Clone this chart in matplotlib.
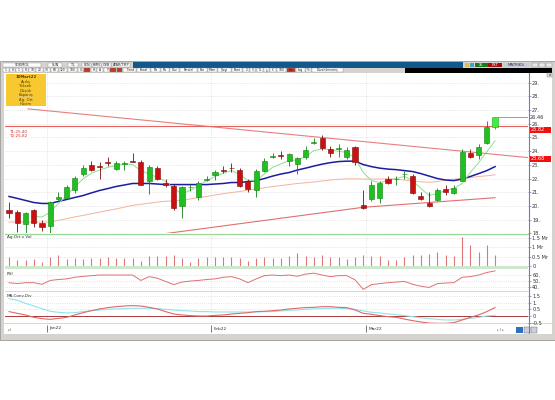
import matplotlib
matplotlib.use("Agg")
import matplotlib.pyplot as plt
from matplotlib.patches import Rectangle
import numpy as np

W, H = 555, 400

# ---------------- data ----------------
opens = [19.67, 19.55, 18.65, 19.72, 18.75, 18.55, 20.52, 20.60, 21.13, 22.34,
         23.00, 22.90, 23.20, 22.73, 23.08, 23.26, 23.20, 21.80, 22.78, 21.70,
         21.47, 19.98, 21.35, 20.64, 21.93, 22.27, 22.60, 22.80, 22.63, 21.80,
         21.13, 22.58, 23.58, 23.72, 23.31, 23.07, 23.55, 24.62, 24.93, 24.18,
         24.18, 23.55, 24.28, 20.04, 20.47, 20.60, 21.98, 21.96, 22.32, 22.17,
         20.69, 20.20, 20.40, 21.27, 20.96, 21.85, 23.84, 23.75, 24.60, 25.73]
highs = [20.30, 19.70, 19.55, 19.80, 19.00, 20.35, 21.00, 21.50, 22.20, 23.00,
         23.30, 23.20, 23.60, 23.30, 23.30, 23.90, 23.35, 23.00, 22.95, 21.95,
         21.60, 21.45, 21.60, 21.85, 22.20, 22.60, 22.95, 23.10, 22.80, 21.95,
         22.70, 23.50, 23.85, 24.00, 23.90, 23.60, 24.35, 24.95, 25.15, 24.40,
         24.50, 24.30, 24.40, 21.13, 21.85, 21.85, 22.15, 22.20, 22.55, 22.30,
         21.00, 21.00, 21.30, 21.50, 21.50, 24.15, 24.15, 24.55, 26.17, 26.50]
lows = [19.15, 18.10, 18.00, 18.45, 18.20, 18.00, 20.45, 20.50, 20.95, 22.20,
        22.55, 22.00, 22.95, 22.60, 22.60, 23.20, 21.50, 20.90, 21.90, 21.40,
        19.70, 19.10, 21.10, 20.45, 21.80, 21.90, 22.40, 22.50, 21.35, 21.00,
        20.64, 22.45, 23.50, 23.45, 22.95, 22.34, 23.45, 24.50, 24.10, 23.55,
        23.55, 23.40, 23.00, 19.80, 20.35, 20.20, 21.60, 21.50, 22.00, 20.90,
        20.40, 19.95, 20.35, 20.80, 20.90, 21.80, 23.50, 23.40, 24.50, 25.60]
closes = [19.50, 18.75, 19.50, 18.75, 18.45, 20.25, 20.62, 21.40, 22.07, 22.78,
          22.63, 22.85, 23.15, 23.11, 23.13, 23.22, 21.56, 22.85, 22.00, 21.54,
          19.82, 21.35, 21.40, 21.71, 21.97, 22.49, 22.56, 22.76, 21.49, 21.25,
          22.53, 23.31, 23.62, 23.68, 23.80, 23.48, 24.10, 24.66, 24.20, 23.89,
          24.22, 24.10, 23.19, 19.87, 21.54, 21.66, 21.69, 22.00, 22.36, 20.96,
          20.47, 20.01, 21.13, 21.03, 21.32, 23.96, 23.60, 24.28, 25.80, 26.46]

ma_blue = [20.69, 20.55, 20.40, 20.25, 20.18, 20.18, 20.33, 20.47, 20.62, 20.76,
           20.95, 21.13, 21.27, 21.42, 21.53, 21.64, 21.64, 21.64, 21.60, 21.56,
           21.56, 21.56, 21.56, 21.56, 21.56, 21.60, 21.64, 21.71, 21.71, 21.78,
           21.85, 22.00, 22.18, 22.33, 22.44, 22.62, 22.76, 22.91, 23.05, 23.16,
           23.24, 23.27, 23.27, 23.02, 22.87, 22.76, 22.69, 22.65, 22.58, 22.51,
           22.36, 22.18, 22.00, 21.89, 21.85, 21.96, 22.15, 22.36, 22.58, 22.87]
ma_green = [np.nan, np.nan, np.nan, 19.24, 19.19, 19.55, 20.18, 20.76, 21.42, 21.98,
            22.39, 22.63, 22.82, 22.95, 23.07, 23.02, 22.58, 22.34, 22.09, 21.80,
            21.25, 20.89, 21.13, 21.49, 21.85, 22.15, 22.39, 22.58, 22.29, 21.85,
            21.85, 22.34, 22.82, 23.07, 23.31, 23.36, 23.60, 24.04, 24.16, 24.11,
            23.99, 23.91, 23.50, 22.44, 21.85, 21.71, 21.85, 22.00, 22.15, 21.85,
            21.27, 20.76, 20.91, 21.13, 21.27, 21.64, 22.44, 23.16, 23.96, 24.76]
ma_orange = [18.82, 18.82, 18.82, 18.82, 18.82, 18.82, 18.95, 19.07, 19.20, 19.31,
             19.43, 19.55, 19.67, 19.78, 19.91, 20.04, 20.12, 20.20, 20.28, 20.34,
             20.37, 20.40, 20.51, 20.62, 20.69, 20.80, 20.89, 20.98, 21.05, 21.15,
             21.24, 21.32, 21.42, 21.49, 21.56, 21.64, 21.69, 21.75, 21.82, 21.89,
             21.94, 21.98, 21.98, 21.96, 21.96, 21.97, 21.98, 21.96, 21.89, 21.82,
             21.76, 21.73, 21.78, 21.89, 21.96, 22.01, 22.07, 22.15, 22.20, 22.27]

volume = [0.46, 0.32, 0.32, 0.36, 0.23, 0.46, 0.59, 0.37, 0.41, 0.37,
          0.41, 0.41, 0.46, 0.41, 0.41, 0.41, 0.29, 0.54, 0.54, 0.54,
          0.59, 0.41, 0.23, 0.41, 0.46, 0.50, 0.46, 0.46, 0.41, 0.29,
          0.41, 0.46, 0.41, 0.41, 0.54, 0.68, 0.54, 0.46, 0.59, 0.46,
          0.46, 0.36, 0.46, 0.59, 0.54, 0.54, 0.32, 0.32, 0.50, 0.59,
          0.59, 0.64, 0.77, 0.59, 0.54, 1.57, 1.12, 0.77, 1.12, 0.59]

rsi = [47.7, 46.2, 47.7, 47.7, 45.1, 51.3, 52.8, 53.8, 56.4, 57.9,
       59.0, 60.0, 60.0, 60.0, 60.0, 60.0, 51.3, 57.4, 54.9, 49.7,
       44.6, 48.7, 50.3, 51.3, 52.8, 53.8, 56.4, 57.4, 53.8, 47.7,
       53.8, 59.0, 60.0, 59.0, 60.0, 58.0, 61.5, 63.0, 60.0, 57.4,
       59.0, 59.0, 52.3, 36.9, 44.6, 46.2, 47.7, 48.7, 49.7, 45.1,
       42.0, 40.0, 46.2, 47.2, 47.7, 56.4, 57.4, 60.0, 64.1, 66.7]

macd = [0.33, 0.20, 0.08, -0.10, -0.20, -0.25, -0.18, -0.10, 0.08, 0.25,
        0.40, 0.53, 0.63, 0.70, 0.75, 0.78, 0.75, 0.65, 0.53, 0.33,
        0.15, 0.08, 0.03, 0.00, 0.00, 0.05, 0.08, 0.15, 0.20, 0.25,
        0.33, 0.35, 0.40, 0.45, 0.53, 0.58, 0.63, 0.65, 0.70, 0.70,
        0.65, 0.63, 0.45, 0.20, 0.13, 0.03, -0.05, -0.10, -0.23, -0.35,
        -0.45, -0.53, -0.55, -0.55, -0.50, -0.30, -0.10, 0.08, 0.33, 0.63]
signal = [1.30, 1.18, 0.95, 0.75, 0.55, 0.35, 0.28, 0.23, 0.25, 0.33,
          0.40, 0.45, 0.50, 0.53, 0.55, 0.58, 0.58, 0.58, 0.55, 0.50,
          0.45, 0.40, 0.38, 0.33, 0.33, 0.30, 0.30, 0.30, 0.30, 0.30,
          0.30, 0.33, 0.33, 0.38, 0.43, 0.45, 0.50, 0.53, 0.55, 0.58,
          0.58, 0.55, 0.50, 0.38, 0.28, 0.23, 0.15, 0.10, 0.03, -0.05,
          -0.13, -0.20, -0.25, -0.30, -0.30, -0.25, -0.18, -0.10, 0.00, 0.05]

# trend lines (anchor points: bar index, price)
down_trend_x = [2.3, 63.0]
down_trend_y = [27.09, 23.53]
up_trend_x = [18.0, 43.0, 59.0]
up_trend_y = [17.90, 19.90, 20.60]
level_price = 25.82
last_price = 26.46
level_labels = ["25.82", "23.68"]
target_texts = ["T1:25.40", "T2:25.82"]

price_ticks = list(range(18, 30))
vol_ticks = [0, 0.5, 1.0, 1.5]
vol_labels = ["0", "0.5 Mr", "1 Mr", "1.5 Mr"]
rsi_ticks = [40, 50, 60]
macd_ticks = [-0.5, 0, 0.5, 1.0, 1.5]
month_labels = ["Jan22", "Feb22", "Mar22"]
month_pos = [4.6, 24.5, 43.3]
legend_rows = ["Açılış", "Yüksek", "Düşük", "Kapanış", "Ağ. Ort", "Hacim"]

# ---------------- figure ----------------
fig = plt.figure(figsize=(W / 100, H / 100), dpi=100)
fig.patch.set_facecolor("white")

bg = fig.add_axes([0, 0, 1, 1])
bg.set_xlim(0, W)
bg.set_ylim(H, 0)
bg.axis("off")

def rect(x, y, w, h, fc, ec="none", lw=0.5, z=1):
    bg.add_patch(Rectangle((x, y), w, h, facecolor=fc, edgecolor=ec, lw=lw, zorder=z))

# window frame
rect(0, 61, 555, 279, "#d6d3ce", ec="#9a9a9a", lw=0.6)
rect(4, 72.5, 548, 261, "white", z=1.1)
# title row
rect(1, 62, 132, 5.5, "#d6d3ce", z=1.2)
rect(133, 62, 330, 5.5, "#10598a", z=1.2)
rect(475, 62.5, 13, 4.5, "#1c7a1c", z=1.3)
rect(488, 62.5, 14, 4.5, "#a81010", z=1.3)
rect(503, 62.5, 26, 4.5, "#c9cad6", z=1.3)
bg.text(481.5, 64.8, "XL", fontsize=2.6, color="white", ha="center", va="center", zorder=2)
bg.text(495, 64.8, "EXT", fontsize=2.6, color="white", ha="center", va="center", zorder=2)
bg.text(516, 64.8, "MATRIKS", fontsize=2.8, color="#303050", ha="center", va="center", zorder=2)
for bx in [532, 539, 546]:
    rect(bx, 62.8, 5.5, 4, "#e8e8e8", ec="#808080", lw=0.3, z=1.3)
rect(465, 62.8, 4, 4, "#e0c040", z=1.3)
rect(470, 62.8, 4, 4, "#40a0d0", z=1.3)
top_boxes = [(3, 38, "SOKMOL"), (48, 14, "SUN"), (68, 10, "TL"), (82, 9, "LEN"), (92, 9, "KMN"),
             (102, 9, "GVB"), (112, 18, "ATAR/TMP")]
for bx, bw, t in top_boxes:
    rect(bx, 62.8, bw, 4.2, "white", ec="#909090", lw=0.3, z=1.3)
    bg.text(bx + bw / 2, 65, t, fontsize=2.4, color="#202020", ha="center", va="center", zorder=2)
# toolbar row
rect(1, 67.5, 404, 5, "#d6d3ce", z=1.2)
rect(405, 67.5, 147, 5, "black", z=1.2)
tool_items = ["1", "8", "1", "8", "10", "20", "30", "60", "120", "180", "G", "", "H", "A", "Y", "", "",
              "Trend", "Kanal", "Fib", "Fib", "Düz", "Paralel", "Bar", "Mum", "Çizgi", "Bant", "2", "5",
              "TL", "$", "€", "100", "Lin", "Log", "%", "Düzeltilmemiş"]
tx = 3
for t in tool_items:
    bw = max(5.5, 2.2 * len(t) + 2)
    rect(tx, 68.0, bw, 4, "white" if t not in ("", "Lin") else "#c0392b", ec="#808080", lw=0.25, z=1.3)
    bg.text(tx + bw / 2, 70.1, t, fontsize=2.2, color="#202020", ha="center", va="center", zorder=2)
    tx += bw + 1
    if tx > 400:
        break
rect(547, 73, 5, 4, "#e0e0e0", ec="#808080", lw=0.3, z=1.3)
bg.text(549.5, 75, "x", fontsize=2.5, ha="center", va="center", zorder=2)

# yellow info box
rect(6, 73.5, 40, 32.5, "#f8c830", z=1.3)
bg.text(26, 77.5, "10Mart22", fontsize=2.8, weight="bold", color="#5a3a00", ha="center", va="center", zorder=2)
for k, t in enumerate(legend_rows):
    bg.text(26, 82 + k * 4.4, t, fontsize=2.7, color="#5a3a00", ha="center", va="center", zorder=2)

# bottom bar
rect(1, 333.5, 553, 5.5, "#d6d3ce", z=1.2)
bg.plot([4, 552], [323, 323], color="#c8c8c8", lw=0.5, zorder=2)
bg.text(8, 331, "ء.ا", fontsize=2.6, color="#404040", zorder=2)
bg.text(497, 331, "ء ا ء", fontsize=2.6, color="#404040", zorder=2)
rect(516, 327, 7, 6, "#3070c0", z=1.3)
rect(524, 327, 6, 6, "#c8d0e0", ec="#606060", lw=0.3, z=1.3)
rect(531, 327, 6, 6, "#c8d0e0", ec="#606060", lw=0.3, z=1.3)

# right axis line & separators
bg.plot([528.5, 528.5], [73, 333], color="#8a70b0", lw=0.8, zorder=3)
bg.plot([5, 528], [233.7, 233.7], color="#9ad89a", lw=0.9, zorder=3)
rect(5, 266, 523, 2.8, "#cde8cd", z=2.5)
bg.plot([5, 528], [291, 291], color="#c8c8c8", lw=0.5, zorder=3)

def pax(x0, y0, x1, y1):
    a = fig.add_axes([x0 / W, 1 - y1 / H, (x1 - x0) / W, (y1 - y0) / H])
    a.patch.set_alpha(0)
    for s in a.spines.values():
        s.set_visible(False)
    a.set_xlim(-0.49, 63.0)
    a.set_xticks([])
    a.yaxis.tick_right()
    a.tick_params(axis="y", direction="out", length=2, width=0.5, color="#8a70b0",
                  labelsize=3.6, pad=1, labelcolor="#303030")
    return a

grid_kw = dict(color="#c9c9c9", lw=0.45, linestyle=(0, (1, 2)), zorder=0)

# ---------------- price panel ----------------
ax = pax(5, 73, 528, 233.3)
ax.set_ylim(18.0, 29.71)
ax.set_yticks(price_ticks)
ax.set_yticklabels([f"{v}." for v in price_ticks])
for v in price_ticks:
    ax.axhline(v, **grid_kw)
for m in month_pos:
    ax.axvline(m, **grid_kw)

idx = np.arange(len(opens))
ax.plot(idx, ma_orange, color="#f2b49a", lw=0.7, zorder=2)
ax.plot(idx, ma_blue, color="#1c1ca0", lw=1.1, zorder=2)
ax.plot(idx, ma_green, color="#8de08d", lw=0.7, zorder=2)
ax.plot(down_trend_x, down_trend_y, color="#e58080", lw=0.8, zorder=2)
ax.plot(up_trend_x, up_trend_y, color="#e07070", lw=0.8, zorder=2)
ax.axhline(level_price, color="#e86060", lw=0.8, zorder=2)
ax.plot([len(opens) - 0.7, 63.0], [last_price, last_price], color="#8a88b0", lw=0.6, zorder=2)

for i, (o, h, l, c) in enumerate(zip(opens, highs, lows, closes)):
    up = c >= o
    fc = "#20c020" if up else "#cc1010"
    ec = "#148014" if up else "#7a0c0c"
    if i == len(opens) - 1:
        fc, ec = "#3cf03c", "#20a020"
    ax.vlines(i, l, h, color=ec, lw=0.6, zorder=3)
    ax.bar(i, max(abs(c - o), 0.03), bottom=min(o, c), width=0.62, color=fc,
           edgecolor=ec, lw=0.4, zorder=4)

ax.text(0.0, 25.42, target_texts[0], fontsize=3.0, color="#d03030", va="center", ha="left")
ax.text(0.0, 25.12, target_texts[1], fontsize=3.0, color="#d03030", va="center", ha="left")

# labels at right axis
ax.text(1.004, last_price, "26.46", transform=ax.get_yaxis_transform(), fontsize=3.6,
        color="#303030", va="center", ha="left")
for lbl, yc in zip(level_labels, [129.5, 158.8]):
    rect(530, yc - 3, 21, 6, "#f01010", z=4)
    bg.text(531, yc, lbl, fontsize=3.6, color="white", va="center", ha="left", zorder=5)

# ---------------- volume panel ----------------
av = pax(5, 234, 528, 266)
av.set_ylim(0, 1.71)
av.set_yticks(vol_ticks)
av.set_yticklabels(vol_labels)
for v in vol_ticks[1:]:
    av.axhline(v, **grid_kw)
for m in month_pos:
    av.axvline(m, **grid_kw)
av.vlines(idx, 0, volume, color="#e07878", lw=0.8)
av.text(0.004, 0.88, "Ag.Ort.x Vol", transform=av.transAxes, fontsize=3.0, color="#303030")

# ---------------- RSI panel ----------------
ar = pax(5, 269, 528, 291)
ar.set_ylim(34.3, 69.7)
ar.set_yticks(rsi_ticks)
ar.set_yticklabels([f"{v}." for v in rsi_ticks])
for v in rsi_ticks:
    ar.axhline(v, **grid_kw)
for m in month_pos:
    ar.axvline(m, **grid_kw)
ar.plot(idx, rsi, color="#e07070", lw=0.7)
ar.text(0.004, 0.72, "RSI", transform=ar.transAxes, fontsize=3.0, color="#303030")

# ---------------- MACD panel ----------------
am = pax(5, 291, 528, 323)
am.set_ylim(-0.525, 1.875)
am.set_yticks(macd_ticks)
am.set_yticklabels(["-0.5 ", "0", "0.5", "1.", "1.5"])
for v in macd_ticks:
    am.axhline(v, **grid_kw)
for m in month_pos:
    am.axvline(m, **grid_kw)
am.axhline(0, color="#a83838", lw=0.7)
am.plot(idx, signal, color="#8ee4e8", lw=0.8)
am.plot(idx, macd, color="#e06868", lw=0.8)
am.text(0.004, 0.80, "MA.Conv.Div", transform=am.transAxes, fontsize=3.0, color="#303030")

# ---------------- date axis ----------------
ad = pax(5, 323, 528, 333)
ad.set_ylim(0, 1)
ad.set_yticks([])
for lbl, m in zip(month_labels, month_pos):
    ad.vlines(m, 0.1, 0.8, color="#404040", lw=0.5)
    ad.text(m + 0.3, 0.45, lbl, fontsize=3.2, color="#303030", va="center", ha="left")

fig.savefig("out.png", dpi=100)
